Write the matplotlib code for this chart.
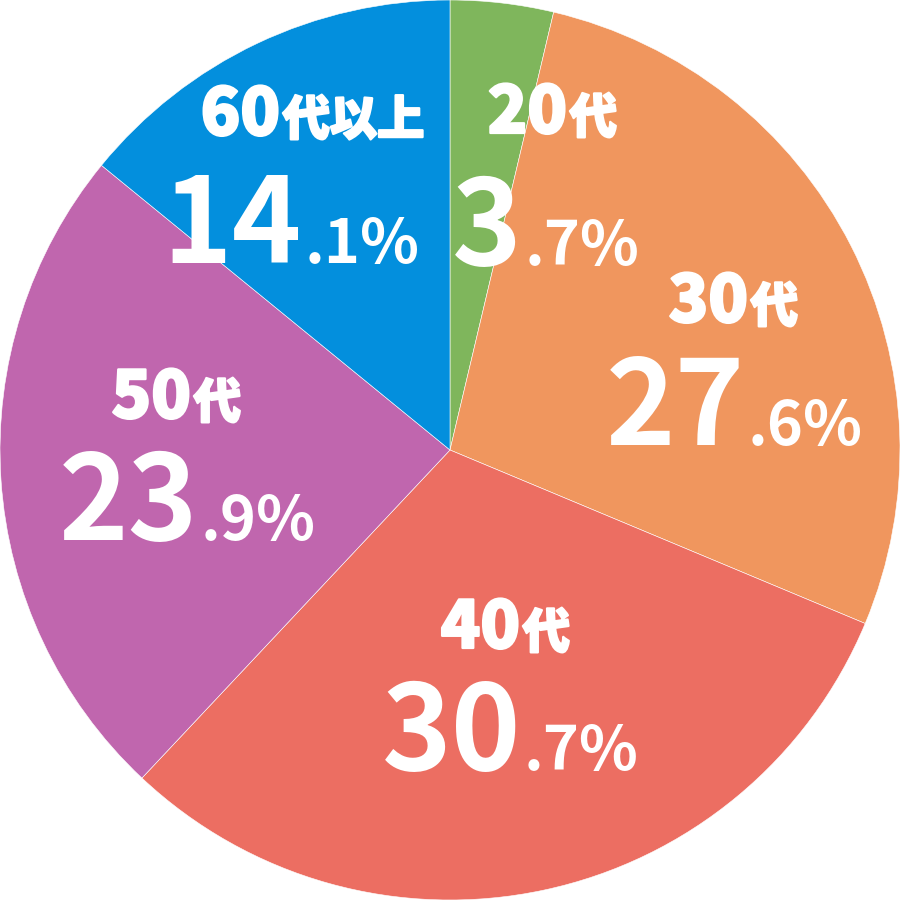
import matplotlib
matplotlib.use("Agg")
import matplotlib.pyplot as plt
import matplotlib.patheffects as pe

plt.rcParams['font.family'] = ['Noto Sans CJK JP', 'DejaVu Sans']

ages = ["20", "30", "40", "50", "60"]
suffix = ["代", "代", "代", "代", "代以上"]
shares = [3.7, 27.6, 30.7, 23.9, 14.1]
colors = ["#7fb65c", "#f0965e", "#ec6e62", "#c066ae", "#038fdd"]

# label layout in pixels (900x900 canvas): split x, label baseline, value baseline
lab_pos = [(567, 133, 522, 265),
           (748, 322, 745, 445),
           (520, 648, 521, 770),
           (191, 418, 198, 540),
           (280, 135, 302, 263)]

fig = plt.figure(figsize=(9, 9), dpi=100)
ax = fig.add_axes([0, 0, 1, 1])
ax.pie(shares, colors=colors, startangle=90, counterclock=False, radius=1,
       wedgeprops=dict(edgecolor="white", linewidth=0.4))
ax.set_xlim(-1, 1)
ax.set_ylim(-1, 1)
ax.set_aspect("equal")
ax.axis("off")

thick = [pe.withStroke(linewidth=1.6, foreground="white")]


def px(x, y):
    return (x - 450) / 450.0, (450 - y) / 450.0


for i in range(len(shares)):
    lx, ly, vx, vy = lab_pos[i]
    x, y = px(lx, ly)
    ax.text(x, y, ages[i], ha="right", va="baseline", color="white",
            fontsize=47, fontweight="heavy", path_effects=thick)
    ax.text(x + 0.006, y, suffix[i], ha="left", va="baseline", color="white",
            fontsize=34, fontweight="heavy", path_effects=thick)
    whole, dec = ("%.1f" % shares[i]).split(".")
    x, y = px(vx, vy)
    ax.text(x, y, whole, ha="right", va="baseline", color="white",
            fontsize=85, fontweight="bold")
    ax.text(x + 0.006, y, "." + dec + "%", ha="left", va="baseline", color="white",
            fontsize=44, fontweight="bold")

fig.savefig("out.png", dpi=100)
